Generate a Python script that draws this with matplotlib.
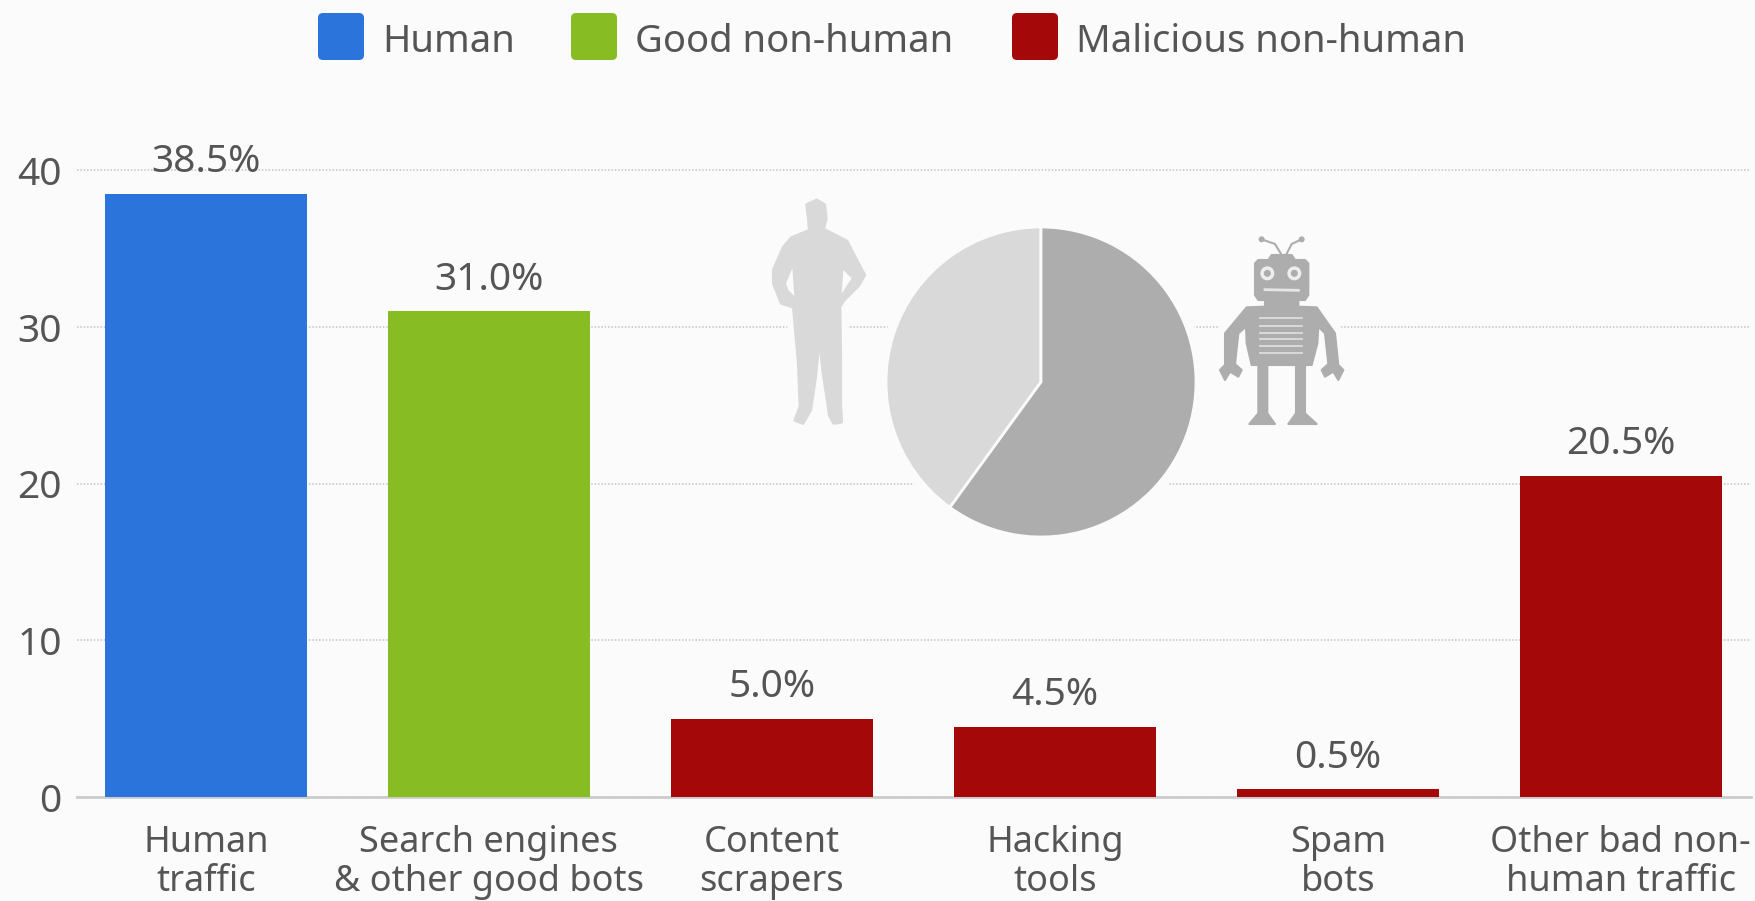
import matplotlib
matplotlib.use('Agg')
from matplotlib import pyplot as plt
from matplotlib.patches import Polygon, Circle, FancyBboxPatch

W, H = 1755, 901

categories = ['Human\ntraffic', 'Search engines\n& other good bots', 'Content\nscrapers',
              'Hacking\ntools', 'Spam\nbots', 'Other bad non-\nhuman traffic']
values = [38.5, 31.0, 5.0, 4.5, 0.5, 20.5]
groups = ['Human', 'Good non-human', 'Malicious non-human',
          'Malicious non-human', 'Malicious non-human', 'Malicious non-human']
legend_labels = ['Human', 'Good non-human', 'Malicious non-human']
y_ticks = [0, 10, 20, 30, 40]
pie_values = [40, 60]

colors = {'Human': '#2a74dc', 'Good non-human': '#88bc23', 'Malicious non-human': '#a50808'}
bg = '#fbfbfb'
txt = '#555555'
light = '#d9d9d9'
dark = '#adadad'

plt.rcParams['font.family'] = ['Noto Sans', 'DejaVu Sans']

fig = plt.figure(figsize=(W / 100, H / 100), dpi=100, facecolor=bg)


def px_axes(left, top, right, bottom):
    return fig.add_axes([left / W, (H - bottom) / H, (right - left) / W, (bottom - top) / H])


# main bars
ax = px_axes(77, 139, 1751, 797)
ax.set_facecolor(bg)
pos = list(range(len(values)))
bars = ax.bar(pos, values, width=0.712, color=[colors[g] for g in groups], zorder=3)
ax.bar_label(bars, labels=['%.1f%%' % v for v in values], padding=9, fontsize=28, color=txt)
ax.set_xlim(-0.4555, 5.46)
ax.set_ylim(0, 42)
ax.set_xticks(pos)
ax.set_xticklabels(categories, fontsize=26, color=txt, linespacing=1.12)
ax.set_yticks(y_ticks)
ax.set_yticklabels([str(t) for t in y_ticks], fontsize=28, color=txt)
ax.tick_params(axis='x', length=0, pad=20)
ax.tick_params(axis='y', length=0, pad=11)
for s in ['top', 'right', 'left']:
    ax.spines[s].set_visible(False)
ax.spines['bottom'].set_color('#cccccc')
ax.spines['bottom'].set_linewidth(2)
ax.yaxis.grid(True, color='#c4c4c4', linestyle=(0, (1, 1.2)), linewidth=1.1, zorder=0)
ax.set_axisbelow(True)

# overlay in pixel coordinates for the legend and the two icons
ov = fig.add_axes([0, 0, 1, 1])
ov.set_xlim(0, W)
ov.set_ylim(H, 0)
ov.axis('off')
ov.patch.set_alpha(0)

swatch_x = [318, 571, 1012]
label_x = [382, 635, 1076]
for sx, lx, name in zip(swatch_x, label_x, legend_labels):
    ov.add_patch(FancyBboxPatch((sx + 4, 17), 38, 39, boxstyle='round,pad=4,rounding_size=5',
                                fc=colors[name], ec='none'))
    ov.text(lx, 37, name, fontsize=27.5, color=txt, va='center_baseline', ha='left')


def person_xy(pts):
    return [(760 + x / 3, 190 + y / 3) for x, y in pts]


def robot_xy(pts):
    return [(1210 + x / 3, 230 + y / 3) for x, y in pts]


# person silhouette
person = [(170, 32), (192, 45), (197, 85), (188, 118), (260, 155), (280, 195), (312, 255), (295, 285),
          (250, 330), (238, 350), (240, 500), (240, 640), (243, 695), (222, 698), (210, 675), (190, 540),
          (178, 425), (165, 560), (150, 660), (128, 698), (107, 690), (122, 650), (117, 520), (102, 350),
          (65, 338), (42, 280), (42, 240), (72, 172), (95, 145), (150, 122), (147, 85), (142, 45)]
ov.add_patch(Polygon(person_xy(person), fc=bg, ec=bg, lw=12, joinstyle='round'))
ov.add_patch(Polygon(person_xy(person), fc=light, ec=light, lw=3, joinstyle='round'))
ov.add_patch(Polygon(person_xy([(97, 235), (103, 318), (85, 300), (78, 280)]), fc=bg, ec='none'))
ov.add_patch(Polygon(person_xy([(250, 240), (275, 265), (245, 310)]), fc=bg, ec='none'))

# robot silhouette
robot_parts = [
    [(175, 90), (185, 75), (245, 75), (255, 90), (285, 90), (295, 100), (295, 195), (285, 210), (265, 210),
     (265, 230), (320, 232), (375, 310), (385, 405), (400, 420), (385, 450), (370, 425), (345, 440), (335, 420),
     (355, 402), (345, 310), (325, 290), (322, 340), (305, 405), (285, 405), (285, 550), (320, 582), (235, 582),
     (258, 550), (258, 405), (172, 405), (172, 550), (195, 582), (118, 582), (145, 550), (145, 405), (125, 405),
     (110, 340), (108, 290), (85, 310), (75, 402), (95, 420), (85, 440), (60, 425), (45, 450), (30, 420),
     (45, 405), (45, 310), (110, 232), (165, 230), (165, 210), (145, 210), (135, 195), (135, 100), (145, 90)],
]
for part in robot_parts:
    ov.add_patch(Polygon(robot_xy(part), fc=bg, ec=bg, lw=12, joinstyle='round'))
    ov.add_patch(Polygon(robot_xy(part), fc=dark, ec=dark, lw=1.5, joinstyle='round'))
for ant in ([(215, 75), (195, 42), (155, 28)], [(228, 75), (245, 42), (275, 28)]):
    xs, ys = zip(*robot_xy(ant))
    ov.plot(xs, ys, color=dark, lw=1.5)
    ov.add_patch(Circle((xs[-1], ys[-1]), 3, fc=dark, ec='none'))
for ex in (172, 253):
    (cx, cy), = robot_xy([(ex, 130)])
    ov.add_patch(Circle((cx, cy), 7, fc='#eeeeee', ec='none'))
    ov.add_patch(Circle((cx, cy), 3.5, fc=dark, ec='none'))
xs, ys = zip(*robot_xy([(165, 179), (265, 181)]))
ov.plot(xs, ys, color='#e6e6e6', lw=2)
for sy in (265, 288, 308, 328, 348, 368):
    xs, ys = zip(*robot_xy([(150, sy), (275, sy)]))
    ov.plot(xs, ys, color='#dddddd', lw=1.3)

# pie in the middle, with a halo that breaks the grid lines
pie_ax = px_axes(866, 207, 1216, 557)
pie_ax.patch.set_alpha(0)
pie_ax.add_patch(Circle((0, 0), 163, fc=bg, ec='none'))
pie_ax.pie(pie_values, colors=[light, dark], startangle=90, radius=155, center=(0, 0), frame=True,
           wedgeprops={'edgecolor': bg, 'linewidth': 2})
pie_ax.set_xlim(-175, 175)
pie_ax.set_ylim(-175, 175)
pie_ax.axis('off')

fig.savefig('out.png', dpi=100, facecolor=bg)
